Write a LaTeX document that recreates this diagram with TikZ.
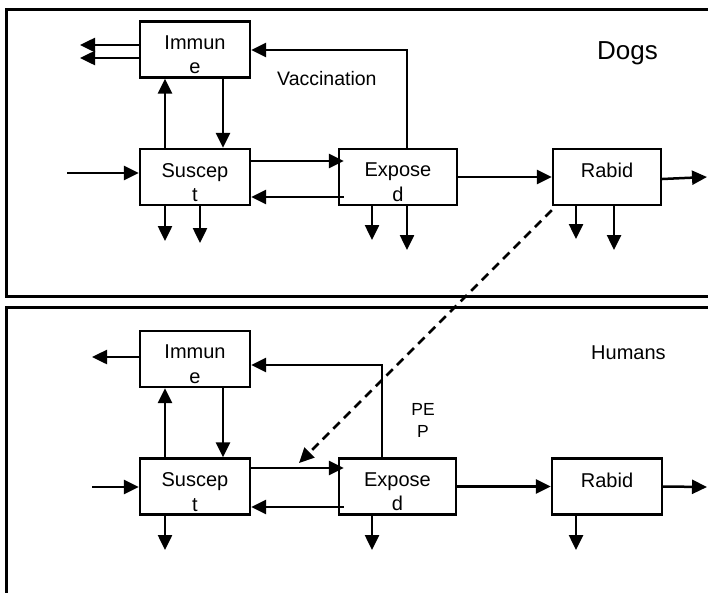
\documentclass[tikz,border=0pt]{standalone}
\usepackage{fontspec}
\setmainfont{Liberation Sans}
\usetikzlibrary{arrows.meta}
\begin{document}
\begin{tikzpicture}[x=1pt,y=-1pt,
  box/.style={draw, line width=2.3pt, rectangle, minimum width=#1, minimum height=56pt, inner sep=0pt},
  boxlbl/.style={anchor=north, yshift=-15pt, inner sep=0pt, align=center, font=\fontsize{20}{24.5}\selectfont},
  arr/.style={-{Triangle[length=15pt,width=14pt]}, line width=2.5pt},
  frame/.style={draw, line width=3pt},
  plain/.style={inner sep=0pt}
]
\useasboundingbox (0,0) rectangle (708,592);
% frames
\draw[frame] (6,9) rectangle (730,296);
\draw[frame] (6,307) rectangle (730,620);

% ---------------- Dogs ----------------
\node[box=110pt, label={[name=dIt,boxlbl]north:{Immun\\e}}] (dI) at (195,49.5) {};
\node[box=110pt, label={[name=dSt,boxlbl]north:{Suscep\\t}}] (dS) at (195,177) {};
\node[box=118pt, label={[name=dEt,boxlbl]north:{Expose\\d}}] (dE) at (398,177) {};
\node[box=108pt, label={[name=dRt,boxlbl]north:{Rabid}}] (dR) at (607,177) {};

\coordinate (dIo1) at (80,45);
\coordinate (dIo2) at (80,58);
\draw[arr] (dI.west |- dIo1) -- (dIo1);
\draw[arr] (dI.west |- dIo2) -- (dIo2);
\coordinate (vac) at (407,50);
\draw[arr] (vac |- dE.north) -- (vac) -- (vac -| dI.east);
\draw[arr] ([xshift=28pt]dI.south) -- ([xshift=28pt]dS.north);
\draw[arr] ([xshift=-30pt]dS.north) -- ([xshift=-30pt]dI.south);
\coordinate (dIn) at (67,173);
\draw[arr] (dIn) -- (dIn -| dS.west);
\draw[arr] ([yshift=16pt]dS.east) -- ([yshift=16pt,xshift=6pt]dE.west);
\draw[arr] ([yshift=-20pt,xshift=6pt]dE.west) -- ([yshift=-20pt]dS.east);
\coordinate (dSd1) at (165,241);
\coordinate (dSd2) at (200,243);
\coordinate (dEd1) at (372,240);
\coordinate (dEd2) at (407,250);
\coordinate (dRd1) at (576,239);
\coordinate (dRd2) at (614,250);
\draw[arr] (dSd1 |- dS.south) -- (dSd1);
\draw[arr] (dSd2 |- dS.south) -- (dSd2);
\draw[arr] (dEd1 |- dE.south) -- (dEd1);
\draw[arr] (dEd2 |- dE.south) -- (dEd2);
\draw[arr] (dRd1 |- dR.south) -- (dRd1);
\draw[arr] (dRd2 |- dR.south) -- (dRd2);
\draw[arr] (dE.east) -- (dR.west);
\coordinate (dOut) at (707,177);
\draw[arr] ([yshift=-2pt]dR.east) -- (dOut);

\node[plain, anchor=base west, font=\fontsize{19.5}{23}\selectfont] (vacl) at (277,85) {Vaccination};
\node[plain, anchor=base west, font=\fontsize{26}{30}\selectfont] (dogs) at (597,59) {Dogs};

% ---------------- Humans ----------------
\node[box=110pt, label={[name=hIt,boxlbl]north:{Immun\\e}}] (hI) at (195,359) {};
\node[box=110pt, label={[name=hSt,boxlbl]north:{Suscep\\t}}] (hS) at (195,486.5) {};
\node[box=117pt, label={[name=hEt,boxlbl]north:{Expose\\d}}] (hE) at (397.5,486.5) {};
\node[box=110pt, label={[name=hRt,boxlbl]north:{Rabid}}] (hR) at (607,486.5) {};

\coordinate (hIo) at (92,357);
\draw[arr] (hI.west |- hIo) -- (hIo);
\coordinate (pep) at (382,365);
\draw[arr] (pep |- hE.north) -- (pep) -- (pep -| hI.east);
\draw[arr] ([xshift=28pt]hI.south) -- ([xshift=28pt]hS.north);
\draw[arr] ([xshift=-30pt]hS.north) -- ([xshift=-30pt]hI.south);
\coordinate (hIn) at (92,487);
\draw[arr] (hIn) -- (hIn -| hS.west);
\draw[arr] ([yshift=18.5pt]hS.east) -- ([yshift=18.5pt,xshift=6pt]hE.west);
\draw[arr] ([yshift=-20.5pt,xshift=6pt]hE.west) -- ([yshift=-20.5pt]hS.east);
\coordinate (hSd) at (165,550);
\coordinate (hEd) at (372,550);
\coordinate (hRd) at (576,550);
\draw[arr] (hSd |- hS.south) -- (hSd);
\draw[arr] (hEd |- hE.south) -- (hEd);
\draw[arr] (hRd |- hR.south) -- (hRd);
\draw[arr] (hE.east) -- (hR.west);
\coordinate (hOut) at (707,487);
\draw[arr] (hR.east) -- (hOut);

\node[plain, anchor=north, align=center, font=\fontsize{17.5}{22}\selectfont] (pepl) at (423,403) {PE\\P};
\node[plain, anchor=base west, font=\fontsize{20}{24}\selectfont] (humans) at (591,359) {Humans};

% dashed link
\coordinate (pepT) at (299,463);
\draw[arr, dashed, dash pattern=on 9pt off 6pt] ([yshift=-4pt]dR.south west) -- (pepT);
\end{tikzpicture}
\end{document}
